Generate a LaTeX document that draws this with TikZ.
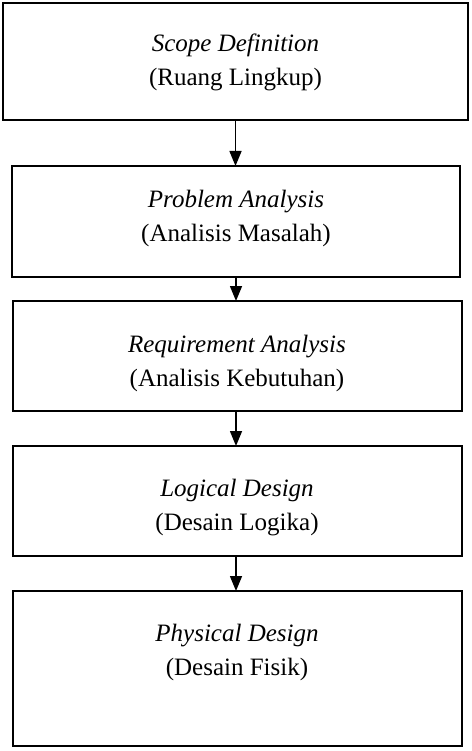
\documentclass[tikz,border=0pt]{standalone}
\usepackage{fontspec}
\setmainfont{Liberation Serif}
\usetikzlibrary{arrows.meta}
\begin{document}
\begin{tikzpicture}[x=1pt,y=-1pt,
  boxline/.style={draw,line width=1.9pt},
  lbl/.style={align=center,font=\fontsize{25}{34}\selectfont},
  flow/.style={line width=1.5pt,-{Triangle[width=12pt,length=15pt]}}]
\useasboundingbox (0,0) rectangle (471,751);
\draw[boxline] (3,3) rectangle (468,120);
\node[lbl] (t1) at (235.5,62) {\textit{Scope Definition}\\(Ruang Lingkup)};
\coordinate (b1) at (235.5,120);
\coordinate (a2) at (235.5,166);
\draw[boxline] (12,166) rectangle (460,277);
\node[lbl] (t2) at (236,218) {\textit{Problem Analysis}\\(Analisis Masalah)};
\coordinate (b2) at (236,277);
\coordinate (a3) at (236,301);
\draw[boxline] (13,301) rectangle (462,411);
\node[lbl] (t3) at (237,363) {\textit{Requirement Analysis}\\(Analisis Kebutuhan)};
\coordinate (b3) at (236,411);
\coordinate (a4) at (236,446);
\draw[boxline] (13,446) rectangle (462,556);
\node[lbl] (t4) at (237,508) {\textit{Logical Design}\\(Desain Logika)};
\coordinate (b4) at (236,556);
\coordinate (a5) at (236,591);
\draw[boxline] (13,591) rectangle (462,746);
\node[lbl] (t5) at (237,652) {\textit{Physical Design}\\(Desain Fisik)};
\draw[flow] (b1) -- (a2);
\draw[flow] (b2) -- (a3);
\draw[flow] (b3) -- (a4);
\draw[flow] (b4) -- (a5);
\end{tikzpicture}
\end{document}
